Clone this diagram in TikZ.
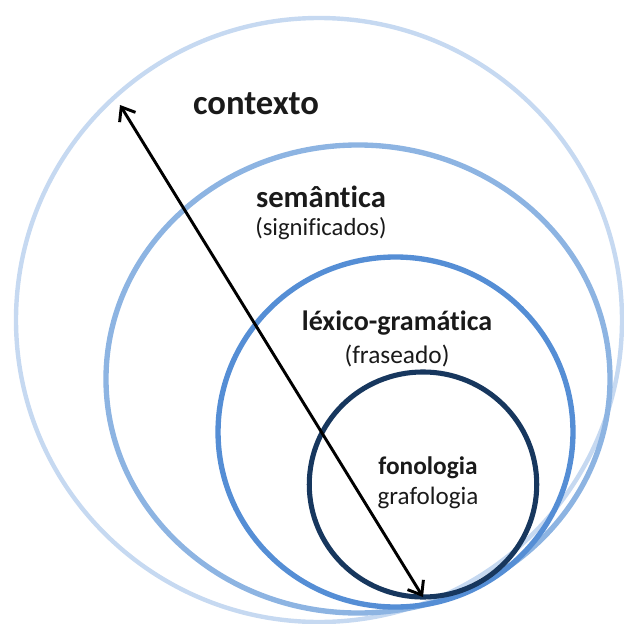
\documentclass[tikz,border=0pt]{standalone}
\usepackage{fontspec}
\setmainfont{Carlito}[Ligatures={NoCommon}]
\usetikzlibrary{arrows.meta}
\definecolor{ring1}{HTML}{C6D9F1}
\definecolor{ring2}{HTML}{8DB4E2}
\definecolor{ring3}{HTML}{558ED5}
\definecolor{ring4}{HTML}{17375E}
\definecolor{txt}{HTML}{1A1A1A}
\tikzset{
  ring/.style={line width=#1},
  lbl/.style={inner sep=0pt, text=txt, align=center},
}
\begin{document}
\begin{tikzpicture}[x=0.75pt,y=-0.75pt]
\useasboundingbox (0,0) rectangle (624,624);
\draw[ring=3.3pt, ring1] (319,320) ellipse [x radius=227.25pt, y radius=226.5pt];
\draw[ring=4pt, ring2] (358,379) ellipse [x radius=189pt, y radius=175.5pt];
\draw[ring=4pt, ring3] (395.5,432) ellipse [x radius=133.1pt, y radius=131.25pt];
\draw[ring=3.8pt, ring4] (423,484.5) ellipse [x radius=85.3pt, y radius=84.4pt];
\node[lbl, font=\fontsize{26}{30}\selectfont\bfseries] (ctx) at (256,104) {contexto};
\node[lbl, font=\fontsize{23}{27}\selectfont\bfseries] (sem) at (321,197) {semântica};
\node[lbl, font=\fontsize{18.5}{22}\selectfont] (sig) at (321,229) {(significados)};
\node[lbl, font=\fontsize{21}{25}\selectfont\bfseries] (lex) at (397,323) {léxico-gramática};
\node[lbl, font=\fontsize{19}{22}\selectfont] (fra) at (397,356) {(fraseado)};
\node[lbl, font=\fontsize{19}{22}\selectfont\bfseries] (fon) at (428,468) {fonologia};
\node[lbl, font=\fontsize{18.8}{22}\selectfont] (gra) at (428,498) {grafologia};
\coordinate (a1) at (120,105);
\coordinate (a2) at (423,597);
\draw[line width=2.2pt, {Straight Barb[length=9pt,width=14pt]}-{Straight Barb[length=9pt,width=14pt]}] (a1) -- (a2);
\end{tikzpicture}
\end{document}
